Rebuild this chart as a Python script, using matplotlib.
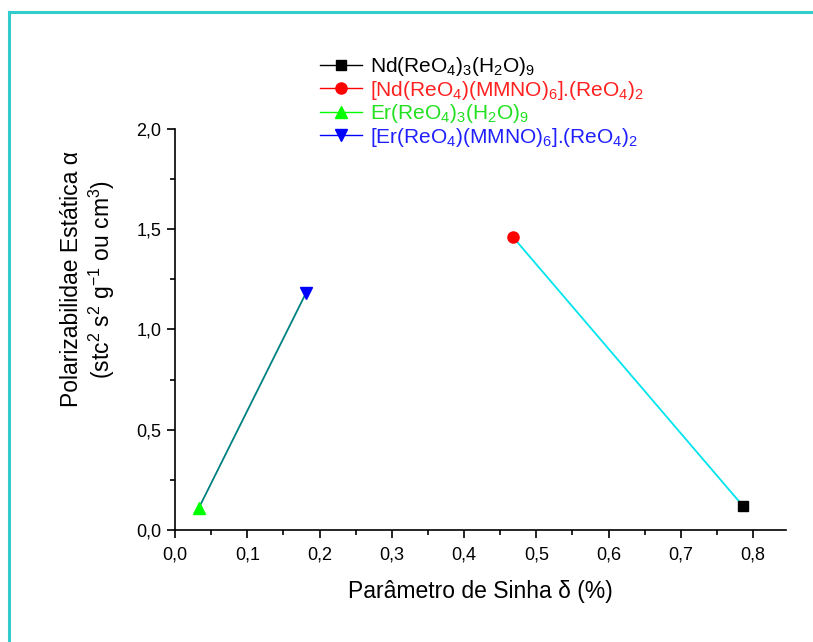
import matplotlib
matplotlib.use("Agg")
import matplotlib.pyplot as plt
from matplotlib.lines import Line2D
from matplotlib.ticker import MultipleLocator, FuncFormatter

plt.rcParams["font.family"] = ["Liberation Sans", "DejaVu Sans"]
plt.rcParams["mathtext.fontset"] = "custom"
plt.rcParams["mathtext.rm"] = "Liberation Sans"
plt.rcParams["mathtext.it"] = "Liberation Sans:italic"

# data
labels = [
    r"Nd(ReO$\mathregular{_4}$)$\mathregular{_3}$(H$\mathregular{_2}$O)$\mathregular{_9}$",
    r"[Nd(ReO$\mathregular{_4}$)(MMNO)$\mathregular{_6}$].(ReO$\mathregular{_4}$)$\mathregular{_2}$",
    r"Er(ReO$\mathregular{_4}$)$\mathregular{_3}$(H$\mathregular{_2}$O)$\mathregular{_9}$",
    r"[Er(ReO$\mathregular{_4}$)(MMNO)$\mathregular{_6}$].(ReO$\mathregular{_4}$)$\mathregular{_2}$",
]
sinha = [0.786, 0.468, 0.033, 0.181]
polariz = [0.12, 1.46, 0.11, 1.18]
colors = ["#000000", "#FF0000", "#00FF00", "#0000FF"]
text_colors = ["#000000", "#FF2020", "#20E020", "#2020FF"]
markers = ["s", "o", "^", "v"]
sizes = [7, 8, 9, 9]

fig = plt.figure(figsize=(8.13, 6.42), dpi=100)

# cyan frame (top and left edges)
fig.add_artist(Line2D([0.011, 1.0], [0.981, 0.981], color="#33CCCC", lw=2.2,
                      transform=fig.transFigure))
fig.add_artist(Line2D([0.011, 0.011], [0.0, 0.981], color="#33CCCC", lw=2.2,
                      transform=fig.transFigure))

ax = fig.add_axes([0.2153, 0.1745, 0.7509, 0.6246])

# connecting lines
ax.plot([sinha[1], sinha[0]], [polariz[1], polariz[0]], color="#00E5EE", lw=1.3, zorder=2)
ax.plot([sinha[2], sinha[3]], [polariz[2], polariz[3]], color="#008080", lw=1.3, zorder=2)

handles = []
for x, y, c, m, s, lab in zip(sinha, polariz, colors, markers, sizes, labels):
    ax.plot([x], [y], linestyle="none", marker=m, color=c, ms=s, zorder=3)
    handles.append(Line2D([], [], color=c, lw=1.0, marker=m, ms=s, label=lab))

ax.set_xlim(0, 0.845)
ax.set_ylim(0, 2.0)
ax.spines["top"].set_visible(False)
ax.spines["right"].set_visible(False)
for sp in ax.spines.values():
    sp.set_linewidth(1.2)

ax.xaxis.set_major_locator(MultipleLocator(0.1))
ax.xaxis.set_minor_locator(MultipleLocator(0.05))
ax.yaxis.set_major_locator(MultipleLocator(0.5))
ax.yaxis.set_minor_locator(MultipleLocator(0.25))
comma = FuncFormatter(lambda v, p: f"{v:.1f}".replace(".", ","))
ax.xaxis.set_major_formatter(comma)
ax.yaxis.set_major_formatter(comma)
ax.tick_params(which="major", direction="out", length=6, width=1.2, labelsize=13)
ax.tick_params(which="minor", direction="out", length=3.5, width=1.2)
ax.tick_params(axis="x", pad=6)
ax.tick_params(axis="y", pad=4)

ax.set_xlabel("Parâmetro de Sinha δ (%)", fontsize=16.5, labelpad=12)
ax.set_ylabel("Polarizabilidae Estática α\n" +
              r"(stc$\mathregular{^2}$ s$\mathregular{^2}$ g$\mathregular{^{-1}}$ ou cm$\mathregular{^3}$)",
              fontsize=16.5, labelpad=14, linespacing=1.15)
ax.yaxis.label.set_y(0.625)

leg = fig.legend(handles=handles, loc="upper left", bbox_to_anchor=(0.381, 0.93),
                 frameon=False, fontsize=15, handlelength=2.0, handletextpad=0.4,
                 labelspacing=0.02, borderpad=0)
for t, c in zip(leg.get_texts(), text_colors):
    t.set_color(c)

fig.savefig("out.png", dpi=100)
